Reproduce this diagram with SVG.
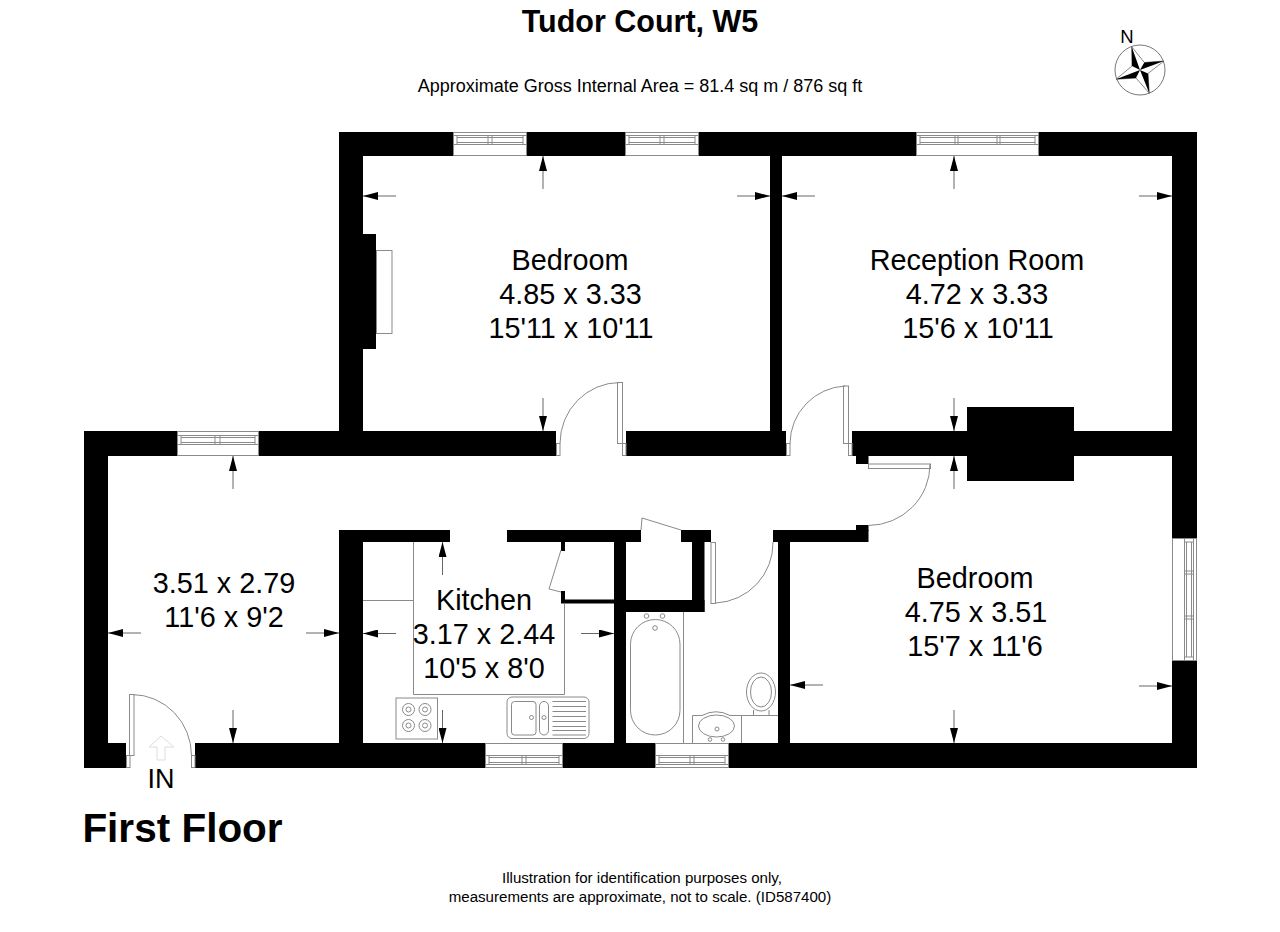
<svg xmlns="http://www.w3.org/2000/svg" width="1280" height="932" viewBox="0 0 1280 932">
<style>
text{font-family:"Liberation Sans",Arial,sans-serif;fill:#000;text-anchor:middle}
.r{font-size:28.8px}
.w{fill:#000;stroke:none}
.g{fill:none;stroke:#8a8a8a;stroke-width:1}
.a{stroke:#666;stroke-width:1;fill:none}
</style>
<defs>
<marker id="ah" viewBox="0 0 15 8" refX="15" refY="4" markerWidth="15" markerHeight="8" markerUnits="userSpaceOnUse" orient="auto"><path d="M0 0L15 4L0 8Z" fill="#000"/></marker>
</defs>
<rect width="1280" height="932" fill="#fff"/>
<g id="title">
<text x="640" y="32" font-size="30.500" font-weight="bold">Tudor Court, W5</text>
<text x="640" y="92" font-size="18">Approximate Gross Internal Area = 81.4 sq m / 876 sq ft</text>
</g>
<g id="compass">
<text x="1127" y="43" font-size="18.500">N</text>
<circle cx="1140" cy="70" r="25" fill="#fff" stroke="#777" stroke-width="1"/>
<path d="M1131.700 46.700L1144.300 62.500L1164 61L1148 73.500L1149.300 93.300L1136 78L1116 79.300L1132 66Z" fill="#fff" stroke="#555" stroke-width=".7"/>
<path d="M1131.700 46.700L1132 66L1140 70ZM1164 61L1144.300 62.500L1140 70ZM1149.300 93.300L1148 73.500L1140 70ZM1116 79.300L1136 78L1140 70Z" fill="#000"/>
</g>
<g id="walls">
<rect class="w" x="339" y="132" width="114" height="24"/>
<rect class="w" x="527" y="132" width="98" height="24"/>
<rect class="w" x="699" y="132" width="217" height="24"/>
<rect class="w" x="1039" y="132" width="158" height="24"/>
<rect class="w" x="339" y="132" width="24" height="299"/>
<rect class="w" x="339" y="234" width="37" height="115"/>
<rect class="w" x="770" y="156" width="12" height="275"/>
<rect class="w" x="1172" y="132" width="25" height="406"/>
<rect class="w" x="1172" y="661" width="25" height="107"/>
<rect class="w" x="84" y="431" width="93" height="25"/>
<rect class="w" x="259" y="431" width="297" height="25"/>
<rect class="w" x="626" y="431" width="160" height="25"/>
<rect class="w" x="852" y="431" width="345" height="25"/>
<rect class="w" x="967" y="407" width="107" height="74"/>
<rect class="w" x="856" y="456" width="12.500" height="8"/>
<rect class="w" x="84" y="431" width="24" height="337"/>
<rect class="w" x="84" y="743" width="42" height="25"/>
<rect class="w" x="195" y="743" width="290" height="25"/>
<rect class="w" x="563" y="743" width="92" height="25"/>
<rect class="w" x="729" y="743" width="468" height="25"/>
<rect class="w" x="339" y="530" width="24" height="213"/>
<rect class="w" x="339" y="530" width="111" height="12"/>
<rect class="w" x="507" y="530" width="134" height="12"/>
<rect class="w" x="681" y="530" width="30" height="12"/>
<rect class="w" x="692" y="530" width="12.500" height="82"/>
<rect class="w" x="614" y="530" width="12" height="213"/>
<rect class="w" x="614" y="600" width="90.500" height="12"/>
<rect class="w" x="561" y="599.500" width="53" height="4"/>
<rect class="w" x="561" y="542" width="4" height="9"/>
<rect class="w" x="561" y="591" width="4" height="12"/>
<rect class="w" x="773" y="530" width="95.500" height="12"/>
<rect class="w" x="856" y="525" width="12.500" height="6"/>
<rect class="w" x="778" y="530" width="12" height="213"/>
</g>
<g id="windows">
<g class="g">
<rect x="453.500" y="132.500" width="73" height="23"/>
<path d="M453.500 135.500H526.500M453.500 144.500H526.500M457 137.500H523M457 142.500H523M457 135.500V144.500M523 135.500V144.500M488 135.500V144.500M492 135.500V144.500"/>
<rect x="625.500" y="132.500" width="73" height="23"/>
<path d="M625.500 135.500H698.500M625.500 144.500H698.500M629 137.500H695M629 142.500H695M629 135.500V144.500M695 135.500V144.500M660 135.500V144.500M664 135.500V144.500"/>
<rect x="916.500" y="132.500" width="122" height="23"/>
<path d="M916.500 135.500H1038.500M916.500 144.500H1038.500M920 137.500H1035M920 142.500H1035M920 135.500V144.500M1035 135.500V144.500M955 135.500V144.500M958 135.500V144.500M997 135.500V144.500M1000 135.500V144.500"/>
<rect x="177.500" y="431.500" width="81" height="24"/>
<path d="M177.500 435.500H258.500M177.500 444.500H258.500M181 437.500H255M181 442.500H255M181 435.500V444.500M255 435.500V444.500M215 435.500V444.500M220 435.500V444.500"/>
<rect x="485.500" y="743.500" width="77" height="24"/>
<path d="M485.500 764.500H562.500M485.500 755.500H562.500M489 762.500H559M489 757.500H559M489 755.500V764.500M559 755.500V764.500M522 755.500V764.500M526 755.500V764.500"/>
<rect x="655.500" y="743.500" width="73" height="24"/>
<path d="M655.500 764.500H728.500M655.500 755.500H728.500M659 762.500H725M659 757.500H725M659 755.500V764.500M725 755.500V764.500M690 755.500V764.500M694 755.500V764.500"/>
<rect x="1172.500" y="538.500" width="24" height="122"/>
<path d="M1193.500 538.500V660.500M1184.500 538.500V660.500M1191.500 542V657M1186.500 542V657M1184.500 542H1193.500M1184.500 657H1193.500M1184.500 571H1193.500M1184.500 574H1193.500M1184.500 616H1193.500M1184.500 619H1193.500"/>
</g>
</g>
<g id="doors">
<g class="g">
<rect x="617.500" y="382.500" width="5" height="61"/>
<rect x="622.500" y="443.500" width="3.500" height="12"/>
<rect x="556.500" y="443.500" width="3.500" height="12"/>
<path d="M620 382.500A60 61 0 0 0 560 443.500"/>
<rect x="843.500" y="386" width="5" height="57.500"/>
<rect x="848.500" y="443.500" width="3.500" height="12"/>
<rect x="786.500" y="443.500" width="3.500" height="12"/>
<path d="M845 386A58 58 0 0 0 790 443.500"/>
<rect x="868.500" y="464" width="62" height="4.500"/>
<path d="M930 464A62 61 0 0 1 868.500 525.500"/>
<rect x="711" y="542.500" width="4.500" height="61"/>
<path d="M715.500 603A60 60 0 0 0 773 542"/>
<rect x="129.500" y="694.500" width="4.500" height="61"/>
<rect x="126.500" y="755.500" width="3.500" height="12"/>
<rect x="191.500" y="755.500" width="3.500" height="12"/>
<path d="M132 694.500A60 61 0 0 1 191.500 755.500"/>
<path d="M561 550L549 589L561 592M641 530L642 518L681 530"/>
</g>
<path d="M157 760H165V747H174L161 736L149 747H157Z" fill="#fff" stroke="#ddd" stroke-width="1"/>
</g>
<g id="fireplace"><rect class="g" x="376.500" y="250.500" width="15.500" height="83"/></g>
<g id="kitchen-fittings">
<g class="g">
<path d="M413.500 542V694.500H564.500V603M363 600.500H413.500"/>
<rect x="396" y="698" width="41.500" height="41"/>
<circle cx="408.500" cy="709.500" r="6"/><circle cx="408.500" cy="709.500" r="2.500"/>
<circle cx="425" cy="709.500" r="6"/><circle cx="425" cy="709.500" r="2.500"/>
<circle cx="408.500" cy="725.500" r="6"/><circle cx="408.500" cy="725.500" r="2.500"/>
<circle cx="425" cy="725.500" r="6"/><circle cx="425" cy="725.500" r="2.500"/>
<rect x="507" y="697" width="82" height="41.500" rx="5"/>
<rect x="511.500" y="701.500" width="24.500" height="33.500" rx="3"/>
<rect x="539.500" y="701.500" width="9" height="33.500" rx="4.500"/>
<circle cx="531.500" cy="717.500" r="2"/><circle cx="544" cy="717.500" r="2"/>
<path d="M552.500 701.500H586M552.500 706.500H586M552.500 711.500H586M552.500 716.500H586M552.500 721.500H586M552.500 726.500H586M552.500 730.500H586M552.500 735H586"/>
</g>
</g>
<g id="bathroom-fittings">
<g class="g">
<path d="M683.500 612V743"/>
<rect x="630.500" y="619.500" width="49.500" height="115.500" rx="24.700"/>
<circle cx="646.500" cy="616" r="2.300"/><circle cx="662.500" cy="616" r="2.300"/><circle cx="655" cy="628" r="2.300"/>
<path d="M692.500 743V715.500H702Q716 708 730 715.500H741.500V743M741.500 715.500H778"/>
<ellipse cx="716.500" cy="726" rx="18" ry="11"/>
<circle cx="717" cy="729" r="2"/><circle cx="710" cy="739.500" r="1.800"/><circle cx="723" cy="739.500" r="1.800"/>
<ellipse cx="761" cy="692" rx="14.500" ry="19"/>
<ellipse cx="761" cy="692" rx="10.500" ry="15"/>
<path d="M753.500 710V715M769 710V715"/>
</g>
</g>
<g id="connectors">
<g class="a">
<path d="M543 189V156" marker-end="url(#ah)"/>
<path d="M396 196H363" marker-end="url(#ah)"/>
<path d="M737 196H770" marker-end="url(#ah)"/>
<path d="M543 398V431" marker-end="url(#ah)"/>
<path d="M954 189V156" marker-end="url(#ah)"/>
<path d="M815 196H782" marker-end="url(#ah)"/>
<path d="M1139 196H1172" marker-end="url(#ah)"/>
<path d="M954 398V431" marker-end="url(#ah)"/>
<path d="M954 489V456" marker-end="url(#ah)"/>
<path d="M823 685H790" marker-end="url(#ah)"/>
<path d="M1139 686H1172" marker-end="url(#ah)"/>
<path d="M954 710V743" marker-end="url(#ah)"/>
<path d="M233 489V456" marker-end="url(#ah)"/>
<path d="M141 633H108" marker-end="url(#ah)"/>
<path d="M306 633H339" marker-end="url(#ah)"/>
<path d="M233 710V743" marker-end="url(#ah)"/>
<path d="M442.500 575V542" marker-end="url(#ah)"/>
<path d="M396 633.500H363" marker-end="url(#ah)"/>
<path d="M581 633.500H614" marker-end="url(#ah)"/>
<path d="M442.500 710V743" marker-end="url(#ah)"/>
</g>
</g>
<g id="bedroom-1" class="r"><text x="570" y="270">Bedroom</text><text x="570.500" y="304">4.85 x 3.33</text><text x="571" y="338">15'11 x 10'11</text></g>
<g id="reception" class="r"><text x="977" y="270">Reception Room</text><text x="977" y="304">4.72 x 3.33</text><text x="978" y="338">15'6 x 10'11</text></g>
<g id="bedroom-2" class="r"><text x="975" y="588">Bedroom</text><text x="976" y="622">4.75 x 3.51</text><text x="975" y="656">15'7 x 11'6</text></g>
<g id="kitchen" class="r"><text x="484" y="610">Kitchen</text><text x="484" y="644">3.17 x 2.44</text><text x="484" y="678">10'5 x 8'0</text></g>
<g id="hall" class="r"><text x="224" y="593">3.51 x 2.79</text><text x="224" y="627">11'6 x 9'2</text></g>
<g id="labels">
<text x="161" y="788" font-size="27">IN</text>
<text x="182.500" y="842" font-size="40.500" font-weight="bold">First Floor</text>
<text x="642" y="883" font-size="15.100">Illustration for identification purposes only,</text>
<text x="640" y="902" font-size="15.100">measurements are approximate, not to scale. (ID587400)</text>
</g>
</svg>
